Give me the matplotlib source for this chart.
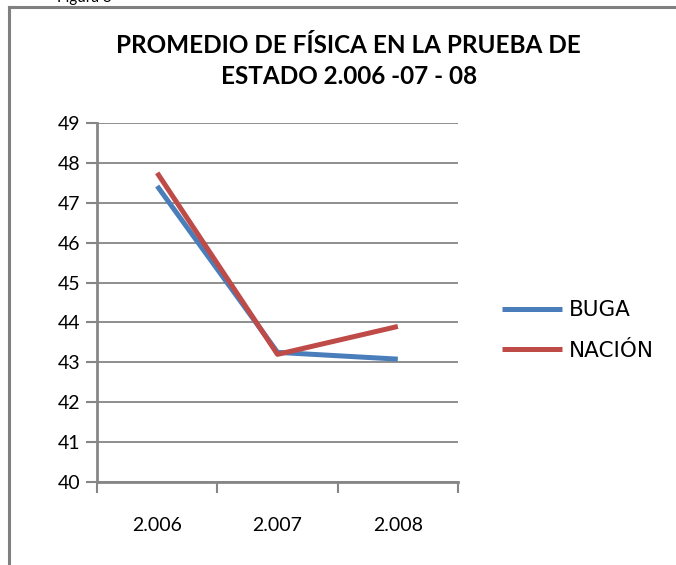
import matplotlib
matplotlib.use("Agg")
import matplotlib.pyplot as plt
from matplotlib.lines import Line2D

years = ["2.006", "2.007", "2.008"]
buga = [47.42, 43.25, 43.08]
nacion = [47.75, 43.2, 43.9]

plt.rcParams['font.family'] = ['Lato', 'DejaVu Sans']

fig = plt.figure(figsize=(6.76, 5.65), dpi=100)
ax = fig.add_axes([0.1435, 0.1469, 0.534, 0.6354])

x = list(range(len(years)))
ax.plot(x, buga, color="#4A7EBB", linewidth=3.6, label="BUGA", solid_capstyle="butt")
ax.plot(x, nacion, color="#BE4B48", linewidth=3.6, label="NACIÓN", solid_capstyle="butt")

ax.set_xlim(-0.5, 2.5)
ax.set_ylim(40, 49)
ax.set_yticks(range(40, 50))
ax.set_xticks([-0.5, 0.5, 1.5, 2.5])
ax.set_xticklabels([])
ax.set_xticks(x, minor=True)
ax.set_xticklabels(years, minor=True)
ax.tick_params(axis="x", which="minor", length=0, pad=25, labelsize=14)
ax.tick_params(axis="x", which="major", length=8, width=1.5, color="#868686", direction="out")
ax.tick_params(axis="y", length=8, width=1.5, color="#868686", labelsize=14, pad=4)
ax.grid(axis="y", color="#868686", linewidth=1.3)
ax.set_axisbelow(True)
for side in ["top", "right"]:
    ax.spines[side].set_visible(False)
for side in ["left", "bottom"]:
    ax.spines[side].set_color("#868686")
    ax.spines[side].set_linewidth(2)

# legend sits to the right of the plot area
ax.legend(loc="center left", bbox_to_anchor=(0.714, 0.415), bbox_transform=fig.transFigure,
          frameon=False, prop={'family': 'DejaVu Sans', 'size': 15.5},
          handlelength=2.8, handletextpad=0.3, labelspacing=0.95)

fig.text(0.516, 0.892, "PROMEDIO DE FÍSICA EN LA PRUEBA DE\nESTADO 2.006 -07 - 08",
         ha="center", va="center", fontsize=17.5, fontweight="bold", linespacing=1.45)
fig.text(0.085, 1.003, "Figura 3", ha="left", va="center", fontsize=11)

fig.add_artist(Line2D([0.0133, 0.0133], [0, 0.987], color="#808080", linewidth=2.2))
fig.add_artist(Line2D([0.0133, 1.0], [0.987, 0.987], color="#808080", linewidth=2.2))

fig.savefig("out.png", dpi=100)
